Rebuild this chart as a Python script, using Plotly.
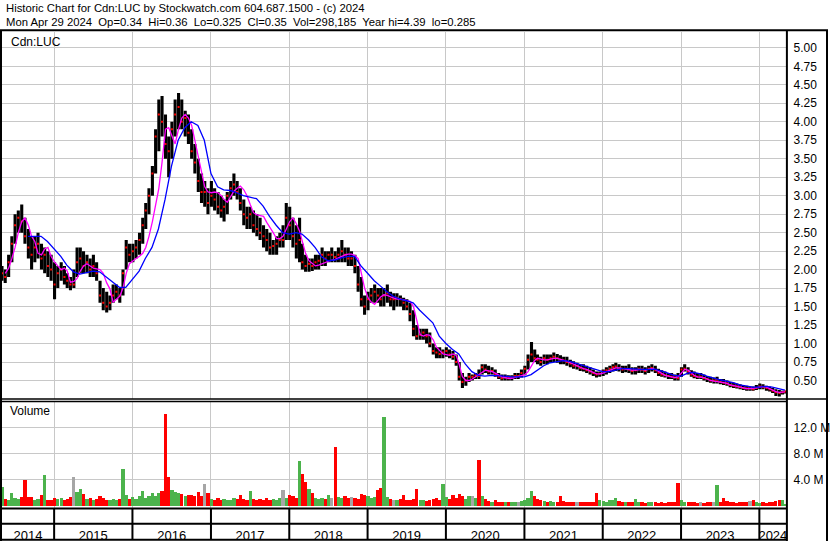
import datetime as dt
import plotly.graph_objects as go

# ---------------- text ----------------
TITLE_1 = "Historic Chart for Cdn:LUC by Stockwatch.com 604.687.1500 - (c) 2024"
TITLE_2 = "Mon Apr 29 2024  Op=0.34  Hi=0.36  Lo=0.325  Cl=0.35  Vol=298,185  Year hi=4.39  lo=0.285"
SYMBOL = "Cdn:LUC"
VOLUME_LABEL = "Volume"
YEARS = [2014, 2015, 2016, 2017, 2018, 2019, 2020, 2021, 2022, 2023, 2024]
PRICE_TICK_LABELS = ["0.50", "0.75", "1.00", "1.25", "1.50", "1.75", "2.00", "2.25", "2.50", "2.75",
                     "3.00", "3.25", "3.50", "3.75", "4.00", "4.25", "4.50", "4.75", "5.00"]
VOLUME_TICKS = [4, 8, 12]
VOLUME_TICK_LABELS = ["4.0 M", "8.0 M", "12.0 M"]

# ---------------- data (semi-monthly samples, May 2014 - Apr 29 2024) ----------------
MONTHS = [(2014, m) for m in range(5, 13)] + [(y, m) for y in range(2015, 2024) for m in range(1, 13)] + [(2024, m) for m in range(1, 5)]
DATES = []
for y, m in MONTHS:
    DATES += [f"{y}-{m:02d}-03", f"{y}-{m:02d}-18"]
DATES.append("2024-04-29")

HIGH = [
    2.05, 2.0, 2.2, 2.45, 2.75, 2.8, 2.88, 2.7, 2.55, 2.45, 2.45, 2.5, 2.35, 2.3, 2.25, 2.2,
    2.1, 2.05, 2.1, 2.05, 1.95, 1.9, 2.0, 2.3, 2.3, 2.25, 2.2, 2.15, 2.2, 2.1, 1.85, 1.75, 1.7, 1.65, 1.8, 1.8, 1.75, 2.0, 2.4, 2.35,
    2.35, 2.4, 2.5, 2.7, 2.9, 3.1, 3.4, 3.9, 4.3, 4.35, 4.1, 3.8, 4.0, 4.3, 4.39, 4.3, 4.15, 4.1, 3.9, 3.7, 3.5, 3.3, 3.2, 3.1,
    3.2, 3.1, 3.05, 3.0, 2.95, 3.05, 3.2, 3.3, 3.2, 3.1, 2.95, 2.85, 2.85, 2.8, 2.75, 2.7, 2.6, 2.55, 2.5, 2.4, 2.45, 2.5, 2.6, 2.9,
    2.85, 2.7, 2.6, 2.7, 2.35, 2.2, 2.15, 2.15, 2.2, 2.2, 2.3, 2.25, 2.25, 2.3, 2.25, 2.3, 2.4, 2.3, 2.3, 2.25, 2.2, 2.05, 1.9, 1.65,
    1.7, 1.75, 1.8, 1.75, 1.75, 1.75, 1.8, 1.7, 1.68, 1.68, 1.65, 1.62, 1.6, 1.55, 1.45, 1.25, 1.2, 1.2, 1.2, 1.15, 1.0, 0.95, 0.95, 0.92,
    0.95, 0.92, 0.9, 0.85, 0.75, 0.6, 0.55, 0.6, 0.58, 0.6, 0.65, 0.72, 0.72, 0.7, 0.68, 0.65, 0.6, 0.58, 0.58, 0.57, 0.57, 0.6, 0.6, 0.65,
    0.7, 0.85, 1.02, 0.92, 0.85, 0.82, 0.85, 0.85, 0.85, 0.88, 0.86, 0.84, 0.82, 0.82, 0.78, 0.76, 0.74, 0.72, 0.72, 0.7, 0.68, 0.65, 0.62, 0.62,
    0.65, 0.68, 0.7, 0.72, 0.74, 0.72, 0.7, 0.7, 0.72, 0.68, 0.68, 0.7, 0.7, 0.68, 0.7, 0.72, 0.7, 0.66, 0.64, 0.62, 0.6, 0.6, 0.58, 0.6,
    0.68, 0.72, 0.68, 0.64, 0.62, 0.6, 0.6, 0.58, 0.56, 0.55, 0.54, 0.55, 0.52, 0.52, 0.5, 0.48, 0.47, 0.46, 0.45, 0.44, 0.43, 0.42, 0.42, 0.44,
    0.46, 0.45, 0.43, 0.42, 0.4, 0.38, 0.37, 0.36, 0.36,
]
LOW = [
    1.85, 1.82, 1.9, 2.1, 2.35, 2.5, 2.5, 2.35, 2.15, 2.0, 2.1, 2.15, 2.0, 1.95, 1.9, 1.85,
    1.6, 1.75, 1.85, 1.8, 1.75, 1.72, 1.75, 1.9, 1.95, 1.95, 1.95, 1.9, 1.9, 1.85, 1.55, 1.45, 1.42, 1.45, 1.55, 1.6, 1.55, 1.65, 2.0, 2.1,
    2.1, 2.15, 2.2, 2.35, 2.55, 2.75, 3.0, 3.3, 3.6, 3.8, 3.5, 3.25, 3.5, 3.8, 3.9, 3.9, 3.8, 3.7, 3.5, 3.3, 3.05, 2.9, 2.85, 2.75,
    2.85, 2.8, 2.75, 2.7, 2.65, 2.75, 2.95, 3.0, 2.95, 2.8, 2.6, 2.55, 2.55, 2.5, 2.45, 2.4, 2.3, 2.25, 2.2, 2.2, 2.2, 2.3, 2.3, 2.4,
    2.4, 2.3, 2.15, 2.1, 2.0, 1.97, 1.97, 1.98, 2.0, 2.0, 2.05, 2.05, 2.1, 2.1, 2.1, 2.1, 2.1, 2.1, 2.05, 2.05, 1.95, 1.7, 1.5, 1.39,
    1.45, 1.55, 1.55, 1.55, 1.5, 1.5, 1.55, 1.5, 1.45, 1.5, 1.5, 1.45, 1.45, 1.3, 1.1, 1.05, 1.05, 1.05, 1.0, 0.95, 0.85, 0.8, 0.8, 0.8,
    0.82, 0.8, 0.78, 0.7, 0.5, 0.4, 0.43, 0.48, 0.5, 0.52, 0.52, 0.58, 0.6, 0.58, 0.58, 0.55, 0.52, 0.5, 0.5, 0.5, 0.5, 0.52, 0.52, 0.54,
    0.57, 0.65, 0.75, 0.75, 0.72, 0.7, 0.72, 0.72, 0.74, 0.75, 0.74, 0.72, 0.72, 0.7, 0.68, 0.66, 0.65, 0.63, 0.62, 0.6, 0.58, 0.56, 0.54, 0.55,
    0.56, 0.58, 0.6, 0.62, 0.63, 0.62, 0.6, 0.61, 0.6, 0.58, 0.58, 0.6, 0.6, 0.58, 0.6, 0.62, 0.6, 0.56, 0.55, 0.54, 0.52, 0.52, 0.5, 0.5,
    0.55, 0.62, 0.58, 0.55, 0.53, 0.52, 0.52, 0.5, 0.48, 0.47, 0.46, 0.46, 0.45, 0.44, 0.43, 0.41, 0.4, 0.39, 0.38, 0.37, 0.36, 0.36, 0.36, 0.37,
    0.38, 0.38, 0.36, 0.35, 0.33, 0.29, 0.285, 0.31, 0.325,
]
CLOSE = [
    1.95, 1.9, 2.1, 2.35, 2.6, 2.7, 2.65, 2.45, 2.3, 2.2, 2.3, 2.35, 2.15, 2.2, 2.05, 2.0,
    1.8, 1.95, 2.0, 1.9, 1.85, 1.8, 1.8, 2.1, 2.15, 2.05, 2.1, 2.0, 2.05, 1.95, 1.65, 1.55, 1.5, 1.55, 1.65, 1.7, 1.65, 1.95, 2.3, 2.2,
    2.25, 2.3, 2.4, 2.6, 2.8, 3.0, 3.3, 3.8, 4.1, 4.0, 3.7, 3.6, 3.9, 4.1, 4.2, 4.0, 4.05, 3.85, 3.6, 3.45, 3.2, 3.05, 3.05, 2.9,
    3.0, 2.95, 2.85, 2.8, 2.85, 3.0, 3.1, 3.15, 3.05, 2.9, 2.75, 2.7, 2.75, 2.6, 2.55, 2.5, 2.45, 2.4, 2.3, 2.32, 2.35, 2.4, 2.4, 2.7,
    2.6, 2.45, 2.35, 2.4, 2.1, 2.05, 2.08, 2.05, 2.1, 2.12, 2.2, 2.15, 2.2, 2.2, 2.17, 2.2, 2.25, 2.2, 2.15, 2.15, 2.05, 1.8, 1.6, 1.5,
    1.6, 1.65, 1.7, 1.65, 1.6, 1.65, 1.68, 1.6, 1.6, 1.62, 1.6, 1.55, 1.5, 1.4, 1.2, 1.1, 1.12, 1.15, 1.1, 1.0, 0.9, 0.88, 0.86, 0.88,
    0.9, 0.85, 0.82, 0.75, 0.55, 0.48, 0.5, 0.55, 0.55, 0.57, 0.56, 0.68, 0.65, 0.62, 0.63, 0.58, 0.55, 0.53, 0.54, 0.53, 0.54, 0.56, 0.56, 0.6,
    0.66, 0.78, 0.85, 0.8, 0.78, 0.75, 0.8, 0.78, 0.8, 0.82, 0.8, 0.78, 0.77, 0.75, 0.73, 0.7, 0.7, 0.67, 0.66, 0.64, 0.62, 0.6, 0.58, 0.59,
    0.62, 0.64, 0.66, 0.68, 0.69, 0.66, 0.65, 0.66, 0.65, 0.63, 0.64, 0.66, 0.65, 0.63, 0.66, 0.67, 0.64, 0.6, 0.58, 0.57, 0.56, 0.55, 0.54, 0.53,
    0.65, 0.66, 0.62, 0.58, 0.56, 0.55, 0.55, 0.53, 0.52, 0.5, 0.5, 0.51, 0.48, 0.47, 0.46, 0.44, 0.43, 0.42, 0.41, 0.4, 0.39, 0.39, 0.38, 0.4,
    0.42, 0.41, 0.4, 0.38, 0.36, 0.34, 0.33, 0.34, 0.35,
]
VOLUME_M = [
    2.8, 1.0, 0.9, 1.9, 1.2, 1.0, 1.3, 4.0, 1.3, 1.3, 0.9, 1.0, 1.6, 4.7, 0.8, 0.9,
    1.1, 1.0, 1.2, 0.9, 1.0, 1.3, 4.4, 2.1, 2.6, 1.8, 1.0, 1.1, 0.9, 1.0, 1.4, 1.2, 0.9, 0.8, 1.0, 0.8, 1.0, 5.7, 1.7, 1.0,
    1.3, 1.0, 1.5, 2.3, 1.2, 1.4, 1.9, 1.5, 2.0, 2.2, 14.2, 4.4, 2.4, 2.1, 2.0, 1.8, 1.5, 1.7, 1.6, 1.4, 2.1, 1.5, 3.4, 1.9,
    1.0, 0.9, 1.1, 0.9, 1.0, 0.8, 0.9, 1.2, 1.0, 1.7, 1.0, 0.9, 2.2, 1.0, 0.8, 1.0, 0.9, 1.1, 0.8, 1.0, 0.9, 1.2, 2.4, 1.1,
    1.6, 1.5, 1.2, 6.9, 4.8, 3.7, 2.5, 1.9, 1.2, 1.0, 1.1, 1.0, 1.7, 1.1, 9.0, 1.3, 1.2, 1.4, 1.1, 1.3, 1.2, 1.0, 1.8, 1.6,
    1.5, 1.2, 1.3, 2.4, 2.7, 13.6, 1.3, 1.0, 0.9, 0.8, 1.0, 1.7, 0.9, 0.8, 1.0, 2.5, 0.9, 0.8, 0.7, 0.8, 1.0, 1.2, 0.9, 3.4,
    1.3, 1.0, 1.6, 1.2, 1.8, 1.5, 1.0, 1.5, 1.4, 1.2, 7.0, 1.4, 1.0, 0.7, 0.6, 0.8, 0.6, 0.5, 0.6, 0.5, 0.6, 0.5, 0.6, 0.7,
    0.8, 1.2, 2.2, 1.4, 1.0, 0.8, 0.7, 0.6, 0.7, 0.6, 0.6, 1.5, 0.7, 0.6, 0.5, 0.6, 0.5, 0.6, 0.5, 0.6, 0.5, 0.6, 1.9, 0.8,
    0.7, 0.6, 0.8, 0.9, 1.2, 0.7, 0.6, 0.5, 0.6, 0.5, 1.0, 0.6, 0.5, 0.4, 0.5, 0.6, 0.5, 0.4, 0.5, 0.4, 0.5, 0.6, 0.5, 3.5,
    0.8, 0.6, 0.5, 0.6, 0.5, 0.4, 0.5, 0.4, 0.5, 0.6, 0.5, 3.1, 0.6, 1.2, 0.7, 0.5, 0.5, 0.4, 0.5, 0.6, 0.5, 0.7, 0.9, 0.5,
    0.4, 0.5, 0.4, 0.6, 0.5, 0.7, 0.8, 0.9, 0.3,
]
# short moving average (magenta), same dates as price samples
MA_FAST = [
    None, 1.95, 2.02, 2.15, 2.3, 2.5, 2.65, 2.7, 2.6, 2.45, 2.38, 2.22, 2.2, 2.28, 2.3, 2.18,
    2.1, 2.05, 2.0, 2.02, 1.98, 1.83, 1.84, 1.88, 1.98, 2.05, 2.08, 2.05, 2.02, 2.01, 2.0, 1.95, 1.82, 1.74, 1.56, 1.6, 1.64, 1.75, 1.95, 2.08,
    2.12, 2.15, 2.18, 2.22, 2.3, 2.45, 2.65, 2.9, 3.1, 3.45, 3.9, 3.92, 3.8, 3.7, 3.9, 4.05, 4.1, 4.05, 3.95, 3.75, 3.55, 3.35, 3.12, 3.05,
    3.04, 3.05, 3.04, 3.0, 2.95, 2.91, 2.98, 3.06, 3.1, 3.13, 3.08, 3.0, 2.88, 2.77, 2.74, 2.73, 2.72, 2.64, 2.56, 2.5, 2.42, 2.42, 2.45, 2.55,
    2.65, 2.7, 2.62, 2.52, 2.38, 2.22, 2.12, 2.08, 2.05, 2.06, 2.08, 2.1, 2.12, 2.13, 2.14, 2.16, 2.18, 2.2, 2.21, 2.21, 2.19, 2.15, 1.95, 1.75,
    1.62, 1.56, 1.53, 1.58, 1.63, 1.66, 1.65, 1.63, 1.61, 1.6, 1.6, 1.59, 1.58, 1.57, 1.5, 1.3, 1.12, 1.1, 1.12, 1.11, 1.05, 0.95, 0.9, 0.86,
    0.85, 0.84, 0.86, 0.84, 0.72, 0.55, 0.5, 0.5, 0.52, 0.55, 0.58, 0.62, 0.64, 0.63, 0.62, 0.6, 0.57, 0.55, 0.54, 0.53, 0.53, 0.54, 0.55, 0.56,
    0.58, 0.62, 0.7, 0.77, 0.8, 0.79, 0.78, 0.78, 0.79, 0.8, 0.8, 0.79, 0.78, 0.76, 0.74, 0.72, 0.7, 0.68, 0.66, 0.65, 0.63, 0.61, 0.59, 0.59,
    0.6, 0.62, 0.64, 0.66, 0.67, 0.67, 0.66, 0.65, 0.65, 0.64, 0.64, 0.65, 0.65, 0.64, 0.65, 0.66, 0.65, 0.62, 0.59, 0.57, 0.56, 0.55, 0.54, 0.55,
    0.6, 0.65, 0.64, 0.6, 0.57, 0.55, 0.55, 0.54, 0.52, 0.5, 0.49, 0.48, 0.48, 0.47, 0.46, 0.44, 0.43, 0.42, 0.41, 0.4, 0.39, 0.39, 0.39, 0.4,
    0.41, 0.42, 0.41, 0.39, 0.37, 0.35, 0.34, 0.34, 0.345,
]
# long moving average (blue), monthly from Sep 2014
MA_SLOW_DATES = [f"{y}-{m:02d}-01" for (y, m) in MONTHS if (y, m) >= (2014, 9)] + ["2024-04-29"]
MA_SLOW = [
    2.45, 2.45, 2.45, 2.38,
    2.28, 2.18, 2.06, 1.97, 1.94, 1.96, 1.98, 1.97, 1.9, 1.82, 1.76, 1.76,
    1.87, 1.98, 2.15, 2.3, 2.55, 2.95, 3.4, 3.75, 3.92, 4.0, 3.95, 3.75,
    3.3, 3.12, 3.08, 3.07, 3.04, 3.0, 2.98, 2.96, 2.86, 2.72, 2.6, 2.5,
    2.48, 2.5, 2.48, 2.4, 2.3, 2.17, 2.12, 2.13, 2.16, 2.18, 2.18, 2.05,
    1.95, 1.85, 1.78, 1.7, 1.64, 1.6, 1.58, 1.55, 1.45, 1.36, 1.28, 1.1,
    1.0, 0.92, 0.86, 0.72, 0.62, 0.57, 0.56, 0.57, 0.57, 0.56, 0.55, 0.55,
    0.55, 0.58, 0.64, 0.7, 0.74, 0.76, 0.77, 0.76, 0.73, 0.7, 0.67, 0.64,
    0.62, 0.62, 0.64, 0.66, 0.66, 0.65, 0.65, 0.65, 0.65, 0.63, 0.6, 0.57,
    0.56, 0.6, 0.61, 0.59, 0.56, 0.53, 0.51, 0.49, 0.47, 0.44, 0.42, 0.41,
    0.41, 0.42, 0.41, 0.39, 0.37,
]

# ---------------- styling / geometry ----------------
W, H = 830, 543
FONT = "Liberation Sans, Arial, sans-serif"
GRID = "#c8c8c8"
GREEN, RED, GRAY = "#4cb34c", "#ff0000", "#a6a6a6"
X_START, X_END = dt.date(2014, 5, 3), dt.date(2024, 5, 7)


def px(x):
    return x / W


def py(y):
    return 1 - y / H


# volume colours from close-to-close direction
vol_colors = []
for i, c in enumerate(CLOSE):
    prev = CLOSE[i - 1] if i > 0 else (HIGH[0] + LOW[0]) / 2
    vol_colors.append(GREEN if c > prev + 1e-9 else (RED if c < prev - 1e-9 else GRAY))
if CLOSE[0] >= (HIGH[0] + LOW[0]) / 2:
    vol_colors[0] = GREEN

# hi-lo segments
seg_x, seg_y = [], []
for d, h, l in zip(DATES, HIGH, LOW):
    seg_x += [d, d, None]
    seg_y += [l, h, None]

year_starts = [f"{y}-01-01" for y in YEARS[1:]]
year_mids = []
for y in YEARS:
    s = max(dt.date(y, 1, 1), X_START)
    e = min(dt.date(y + 1, 1, 1), X_END)
    year_mids.append((s + (e - s) / 2).isoformat())

fig = go.Figure()
fig.add_trace(go.Bar(x=DATES, y=VOLUME_M, marker=dict(color=vol_colors, line=dict(width=0)),
                     width=15 * 86400000, xaxis="x2", yaxis="y2", hoverinfo="skip"))
fig.add_trace(go.Scatter(x=seg_x, y=seg_y, mode="lines", line=dict(color="black", width=3.1),
                         xaxis="x", yaxis="y", hoverinfo="skip"))
fig.add_trace(go.Scatter(x=DATES, y=CLOSE, mode="markers",
                         marker=dict(color=RED, size=2, symbol="square", line=dict(width=0)),
                         xaxis="x", yaxis="y", hoverinfo="skip"))
fig.add_trace(go.Scatter(x=DATES, y=MA_FAST, mode="lines", line=dict(color="#ff00ff", width=1.3),
                         xaxis="x", yaxis="y", hoverinfo="skip"))
fig.add_trace(go.Scatter(x=MA_SLOW_DATES, y=MA_SLOW, mode="lines", line=dict(color="#0000ff", width=1.3),
                         xaxis="x", yaxis="y", hoverinfo="skip"))

xr = [X_START.isoformat(), X_END.isoformat()]
fig.update_layout(
    width=W, height=H, margin=dict(l=0, r=0, t=0, b=0),
    paper_bgcolor="white", plot_bgcolor="white", showlegend=False,
    font=dict(family=FONT, size=12, color="black"),
    bargap=0,
    xaxis=dict(domain=[px(2), px(788.5)], anchor="y", type="date", range=xr,
               tickmode="array", tickvals=year_starts, showticklabels=False, ticks="",
               showgrid=True, gridcolor=GRID, gridwidth=1, zeroline=False, showline=False),
    yaxis=dict(domain=[py(400), py(32)], anchor="x", side="right", range=[0.256, 5.216],
               tickmode="array", tickvals=[float(s) for s in PRICE_TICK_LABELS], ticktext=PRICE_TICK_LABELS,
               ticks="", ticklabelstandoff=6, showgrid=True, gridcolor=GRID, gridwidth=1,
               zeroline=False, showline=False, tickfont=dict(size=12, family=FONT, color="black")),
    xaxis2=dict(domain=[px(2), px(788.5)], anchor="y2", type="date", range=xr,
                tickmode="array", tickvals=year_mids, ticktext=[str(y) for y in YEARS],
                ticks="", showgrid=False, zeroline=False, showline=False, ticklabelstandoff=18,
                tickfont=dict(size=13, family=FONT, color="black"),
                minor=dict(tickmode="array", tickvals=year_starts, showgrid=True, gridcolor=GRID, gridwidth=1, ticks="")),
    yaxis2=dict(domain=[py(510), py(402.5)], anchor="x2", side="right", range=[-0.4, 16.14],
                tickmode="array", tickvals=VOLUME_TICKS, ticktext=VOLUME_TICK_LABELS,
                ticks="", ticklabelstandoff=6, showgrid=True, gridcolor=GRID, gridwidth=1,
                zeroline=False, showline=False, tickfont=dict(size=12, family=FONT, color="black")),
)

shapes = []


def hline(y, x0, x1, w):
    shapes.append(dict(type="line", xref="paper", yref="paper", x0=px(x0), x1=px(x1), y0=py(y), y1=py(y),
                       line=dict(color="black", width=w)))


def vline(x, y0, y1, w):
    shapes.append(dict(type="line", xref="paper", yref="paper", x0=px(x), x1=px(x), y0=py(y0), y1=py(y1),
                       line=dict(color="black", width=w)))


hline(30.3, 0, 830, 2)
vline(1, 30, 543, 2)
vline(788.8, 30, 543, 2)
vline(829, 30, 543, 2)
hline(400.5, 0, 830, 1.3)
hline(403.0, 0, 788.8, 1.3)
hline(510.3, 0, 788.8, 2)
hline(525.8, 0, 788.8, 2)
hline(541.8, 0, 788.8, 2)
for ys in year_starts:
    shapes.append(dict(type="line", xref="x2", yref="paper", x0=ys, x1=ys, y0=py(510.3), y1=py(541.8),
                       line=dict(color="black", width=2)))
fig.update_layout(shapes=shapes)

ann = [
    dict(text=TITLE_1, x=px(4), y=py(8.5)),
    dict(text=TITLE_2, x=px(4), y=py(22)),
    dict(text=SYMBOL, x=px(9), y=py(42)),
    dict(text=VOLUME_LABEL, x=px(8.5), y=py(413)),
]
fig.update_layout(annotations=[dict(a, xref="paper", yref="paper", xanchor="left", yanchor="middle",
                                    showarrow=False,
                                    font=dict(family=FONT, size=11.3 if i < 2 else 12, color="black"))
                               for i, a in enumerate(ann)])

fig.write_html("out.html", config={"displayModeBar": False, "staticPlot": True},
               post_script="document.body.style.margin='0';document.body.style.padding='0';"
                           "document.documentElement.style.overflow='hidden';")
